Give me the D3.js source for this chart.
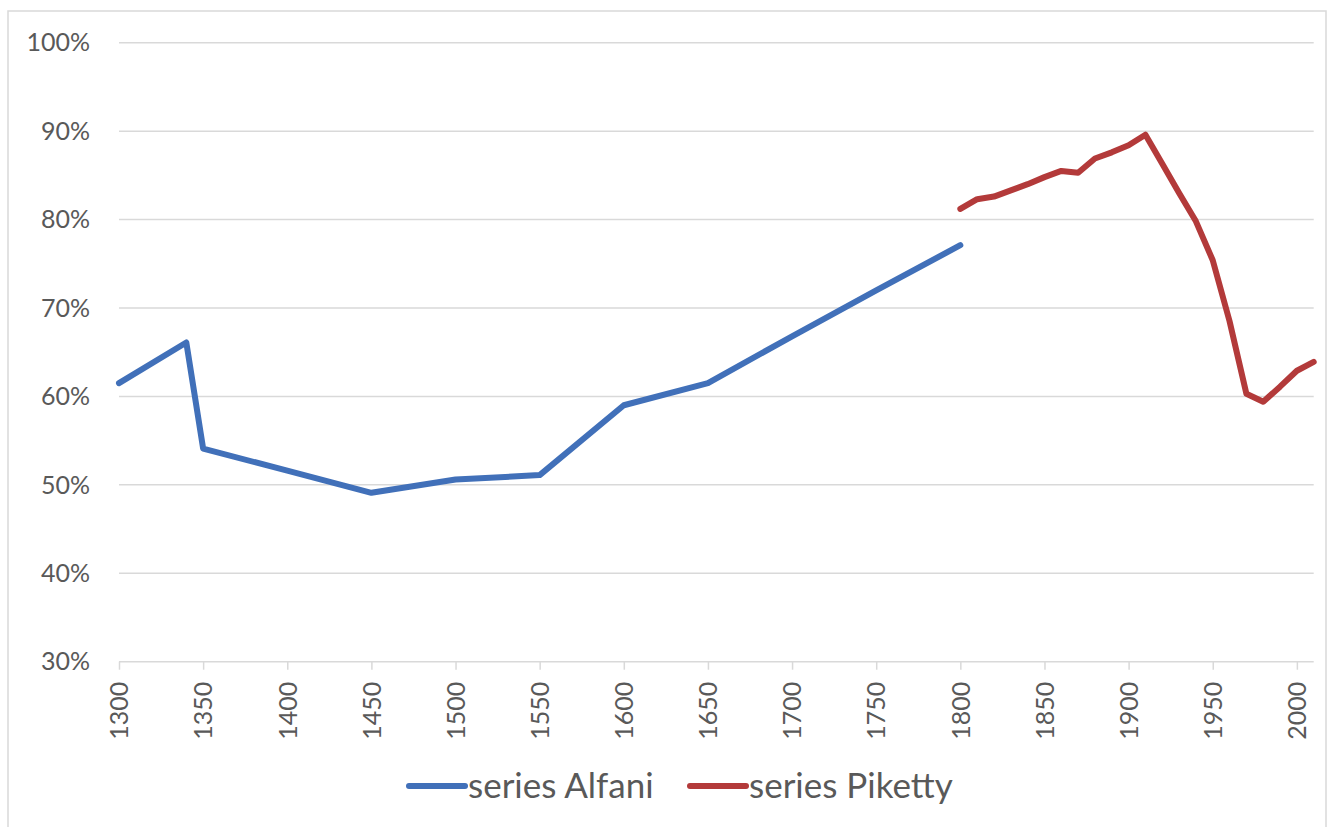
<!DOCTYPE html>
<html>
<head>
<meta charset="utf-8">
<script src="https://cdn.jsdelivr.net/npm/d3@7"></script>
<style>
  body { margin: 0; background: #fff; }
  text { font-family: Lato, "Liberation Sans", sans-serif; fill: #595959; }
</style>
</head>
<body>
<svg id="canvas" width="1333" height="827"></svg>
<script>
let alfaniYears = [1300, 1340, 1350, 1400, 1450, 1500, 1550, 1600, 1650, 1700, 1750, 1800];
let alfaniValues = [61.5, 66.1, 54.1, 51.6, 49.1, 50.6, 51.1, 59.0, 61.5, 66.8, 72.0, 77.1];

let pikettyYears = [1800, 1810, 1820, 1830, 1840, 1850, 1860, 1870, 1880, 1890, 1900, 1910,
  1920, 1930, 1940, 1950, 1960, 1970, 1980, 1990, 2000, 2010];
let pikettyValues = [81.2, 82.3, 82.6, 83.3, 84.0, 84.8, 85.5, 85.3, 86.9, 87.6, 88.4, 89.6,
  86.3, 83.0, 79.8, 75.4, 68.5, 60.3, 59.4, 61.1, 62.9, 63.9];

let yTicks = [30, 40, 50, 60, 70, 80, 90, 100];
let xTicks = d3.range(1300, 2001, 50);

let seriesNames = ["series Alfani", "series Piketty"];
let seriesColors = ["#4170b9", "#b33a3a"];

let canvas = d3.select("#canvas");

// chart frame
canvas.append("rect")
  .attr("x", 8).attr("y", 11)
  .attr("width", 1318).attr("height", 830)
  .attr("fill", "none")
  .attr("stroke", "#d9d9d9")
  .attr("stroke-width", 1.5);

let xScale = d3.scaleLinear().domain([1300, 2010]).range([119, 1313.7]);
let yScale = d3.scaleLinear().domain([30, 100]).range([661.7, 42.7]);

// gridlines
canvas.append("g")
  .selectAll("line")
  .data(yTicks.filter((d) => d > 30))
  .enter()
  .append("line")
  .attr("x1", xScale(1300))
  .attr("x2", xScale(2010))
  .attr("y1", (d) => yScale(d))
  .attr("y2", (d) => yScale(d))
  .attr("stroke", "#d9d9d9")
  .attr("stroke-width", 1.5);

// y labels
canvas.append("g")
  .selectAll("text")
  .data(yTicks)
  .enter()
  .append("text")
  .attr("x", 90)
  .attr("y", (d) => yScale(d))
  .attr("dy", "0.35em")
  .attr("text-anchor", "end")
  .style("font-size", "25px")
  .text((d) => d + "%");

// x axis
let xAxis = d3.axisBottom(xScale)
  .tickValues(xTicks)
  .tickFormat(d3.format("d"))
  .tickSize(8)
  .tickPadding(8);

let xg = canvas.append("g")
  .attr("transform", "translate(0," + yScale(30) + ")")
  .call(xAxis);

xg.select(".domain").attr("stroke", "#d9d9d9").attr("stroke-width", 1.5)
  .attr("d", "M" + xScale(1300) + ",0H" + xScale(2010));
xg.selectAll(".tick line").attr("stroke", "#d9d9d9").attr("stroke-width", 1.5);
xg.selectAll(".tick text")
  .attr("transform", "rotate(-90)")
  .attr("x", -20)
  .attr("y", 0)
  .attr("dy", "0.35em")
  .attr("text-anchor", "end")
  .style("font-size", "25px")
  .style("font-family", "Lato, 'Liberation Sans', sans-serif")
  .attr("fill", "#595959");

let line = d3.line()
  .x((d) => xScale(d[0]))
  .y((d) => yScale(d[1]));

let seriesData = [
  d3.zip(alfaniYears, alfaniValues),
  d3.zip(pikettyYears, pikettyValues)
];

canvas.append("g")
  .selectAll("path")
  .data(seriesData)
  .enter()
  .append("path")
  .attr("d", line)
  .attr("fill", "none")
  .attr("stroke", (d, i) => seriesColors[i])
  .attr("stroke-width", 6)
  .attr("stroke-linejoin", "round")
  .attr("stroke-linecap", "round");

// legend
let legendX = [409, 690];
let legend = canvas.append("g")
  .selectAll("g")
  .data(seriesNames)
  .enter()
  .append("g")
  .attr("transform", (d, i) => "translate(" + legendX[i] + ",786)");

legend.append("line")
  .attr("x1", 0).attr("x2", 56)
  .attr("stroke", (d, i) => seriesColors[i])
  .attr("stroke-width", 6)
  .attr("stroke-linecap", "round");

legend.append("text")
  .attr("x", 59)
  .attr("dy", "0.35em")
  .style("font-size", "35px")
  .text((d) => d);
</script>
</body>
</html>
